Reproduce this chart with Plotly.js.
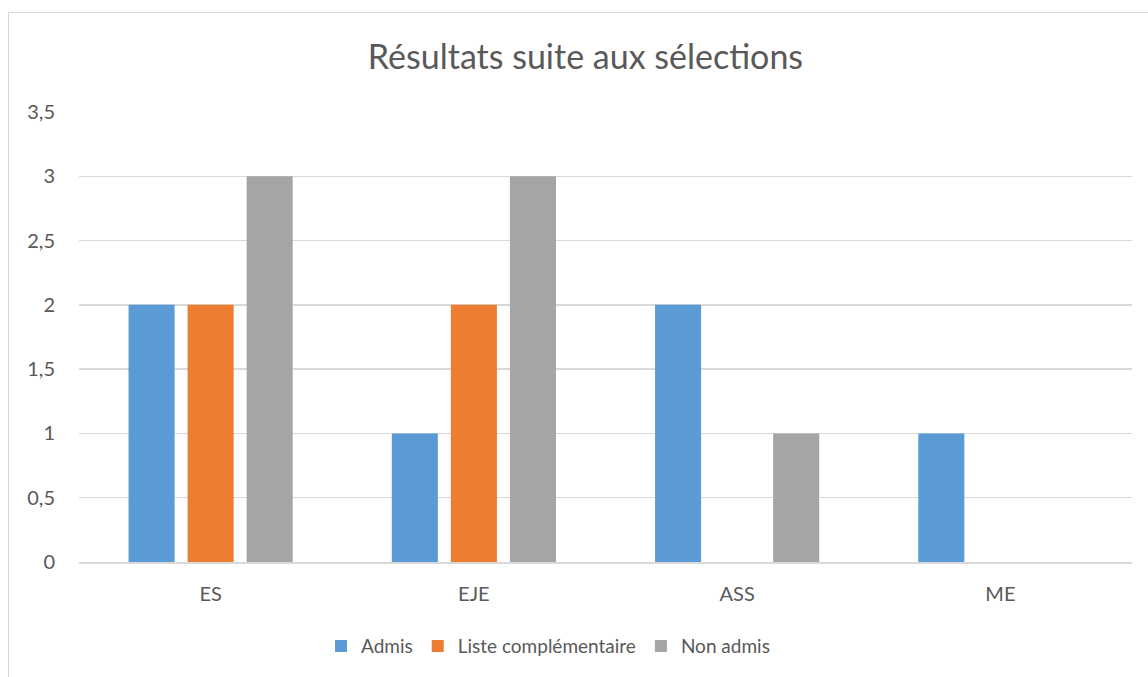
<!DOCTYPE html>
<html>
<head>
<meta charset="utf-8">
<script src="https://cdn.plot.ly/plotly-3.0.1.min.js"></script>
<style>
html,body{margin:0;padding:0;background:#fff;overflow:hidden;}
#chart{width:1148px;height:677px;}
#frame{position:absolute;left:8px;top:12px;width:1200px;height:700px;border:1.5px solid #d9d9d9;pointer-events:none;}
</style>
</head>
<body>
<div id="chart"></div>
<div id="frame"></div>
<script>
const categories = ["ES", "EJE", "ASS", "ME"];
const admis = [2, 1, 2, 1];
const listeComplementaire = [2, 2, 0, 0];
const nonAdmis = [3, 3, 1, 0];
const seriesNames = ["Admis", "Liste complémentaire", "Non admis"];
const yTicks = [0, 0.5, 1, 1.5, 2, 2.5, 3, 3.5];

const font = "Lato, 'Open Sans', sans-serif";
const colors = ["#5b9bd5", "#ed7d31", "#a5a5a5"];
const data = [admis, listeComplementaire, nonAdmis].map((vals, i) => ({
  type: "bar",
  name: seriesNames[i],
  x: categories,
  y: vals,
  marker: {color: colors[i]},
  hoverinfo: "none"
}));

const layout = {
  width: 1148, height: 677,
  margin: {l: 79, r: 16, t: 112, b: 115},
  paper_bgcolor: "#fff", plot_bgcolor: "#fff",
  separators: ", ",
  font: {family: font, color: "#595959", size: 20},
  title: {text: "Résultats suite aux sélections", font: {family: font, size: 34, color: "#595959"}, x: 0.51, xref: "container", xanchor: "center", y: 0.915, yanchor: "middle"},
  barmode: "group",
  bargap: 0.327,
  bargroupgap: 0.22,
  xaxis: {
    showline: true, linecolor: "#d9d9d9", linewidth: 1.5,
    showgrid: false, ticks: "outside", ticklen: 13, tickcolor: "rgba(0,0,0,0)",
    tickfont: {size: 20, color: "#595959"}, zeroline: false
  },
  yaxis: {
    range: [0, 3.5], tickvals: yTicks, showgrid: true, gridcolor: "#d9d9d9", gridwidth: 1.3,
    zeroline: false, showline: false, ticks: "outside", ticklen: 19, tickcolor: "rgba(0,0,0,0)",
    tickfont: {size: 20, color: "#595959"}, tickformat: ".1~f"
  },
  showlegend: true,
  legend: {orientation: "h", x: 0.4454, xanchor: "center", y: -0.187, yanchor: "middle",
    font: {size: 19, color: "#595959"}, itemwidth: 30, traceorder: "normal"}
};

Plotly.newPlot("chart", data, layout, {staticPlot: true, displayModeBar: false});
</script>
</body>
</html>
